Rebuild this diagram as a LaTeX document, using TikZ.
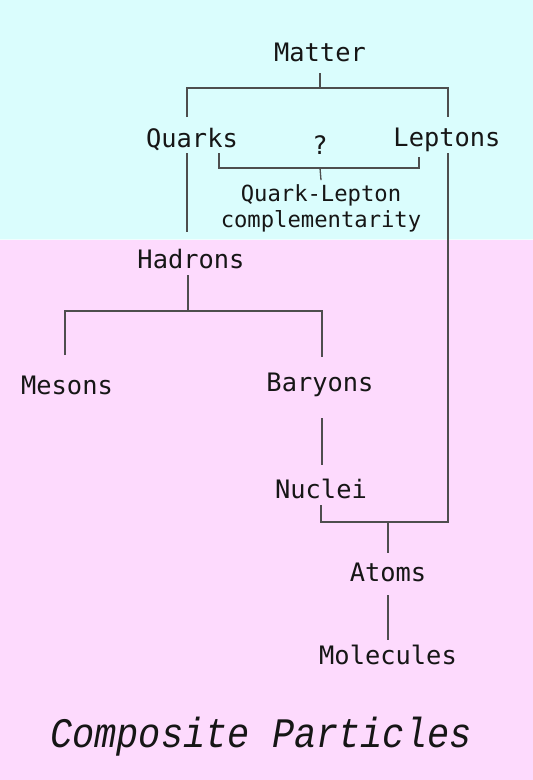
\documentclass[tikz,border=0pt]{standalone}
\usepackage{fontspec}
\usetikzlibrary{calc}
\newfontfamily\lblfont{DejaVu Sans Mono}
\newfontfamily\ttlfont[FakeStretch=0.88]{Liberation Mono}
\definecolor{cyanbg}{RGB}{218,253,253}
\definecolor{pinkbg}{RGB}{253,218,253}
\definecolor{linec}{RGB}{78,78,78}
\definecolor{txtc}{RGB}{22,22,22}
\begin{document}
\begin{tikzpicture}[x=1pt,y=-1pt,
  lbl/.style={font=\lblfont\fontsize{25.4}{28}\selectfont,text=txtc,inner sep=0pt},
  small/.style={font=\lblfont\fontsize{22.2}{25}\selectfont,text=txtc,inner sep=0pt,align=center},
  conn/.style={draw=linec,line width=1.3pt}]
\useasboundingbox (0,0) rectangle (533,780);
\fill[cyanbg] (0,0) rectangle (533,239);
\fill[pinkbg] (0,240) rectangle (533,780);
\fill[white!60!cyanbg] (0,239) rectangle (533,240);
% nodes
\node[lbl] (matter) at (320,52) {Matter};
\node[lbl] (quarks) at (192,140) {Quarks};
\node[lbl] (qm) at (320,145) {?};
\node[lbl] (leptons) at (447,140) {Leptons};
\node[small] (qlc) at (321,208) {Quark-Lepton\\[1pt]complementarity};
\node[lbl] (hadrons) at (191,259) {Hadrons};
\node[lbl] (mesons) at (67,385) {Mesons};
\node[lbl] (baryons) at (320,385) {Baryons};
\node[lbl] (nuclei) at (321,489) {Nuclei};
\node[lbl] (atoms) at (388,572) {Atoms};
\node[lbl] (molecules) at (388,655) {Molecules};
\node[font=\ttlfont\itshape\fontsize{42}{48}\selectfont,text=txtc,inner sep=0pt] (title) at (261,737) {Composite Particles};
% junction coordinates
\coordinate (mj) at (320,88);
\coordinate (qlj) at (320,168);
\coordinate (hj) at (188,311);
\coordinate (nj) at (388,522);
% Matter -> Quarks, Leptons
\draw[conn] (matter.center) ++(0,21) -- (mj);
\draw[conn] (187,117) -- (187,88) -- (448,88) -- (448,117);
% Quarks -> Hadrons
\draw[conn] ($(quarks.center)+(-5,13)$) -- ($(quarks.center)+(-5,92)$);
% Quark-Lepton bracket
\draw[conn] (quarks.center) ++(27,13) -- (219,168) -- (419,168) -- ($(leptons.center)+(-28,17)$);
\draw[conn] (qlj) -- ($(qlc.north)+(0,-4)$);
% Hadrons -> Mesons, Baryons
\draw[conn] (hadrons.center) ++(-3,16) -- (hj);
\draw[conn] ($(mesons.center)+(-2,-30)$) -- (65,311) -- (322,311) -- ($(baryons.center)+(2,-28)$);
% Baryons -> Nuclei
\draw[conn] (baryons.center) ++(2,33) -- ($(nuclei.center)+(1,-24)$);
% Leptons, Nuclei -> Atoms
\draw[conn] (leptons.center) ++(1,13) -- (448,522) -- (321,522) -- ($(nuclei.center)+(0,16)$);
\draw[conn] (nj) -- ($(atoms.center)+(0,-19)$);
% Atoms -> Molecules
\draw[conn] (atoms.center) ++(0,23) -- ($(molecules.center)+(0,-15)$);
\end{tikzpicture}
\end{document}
